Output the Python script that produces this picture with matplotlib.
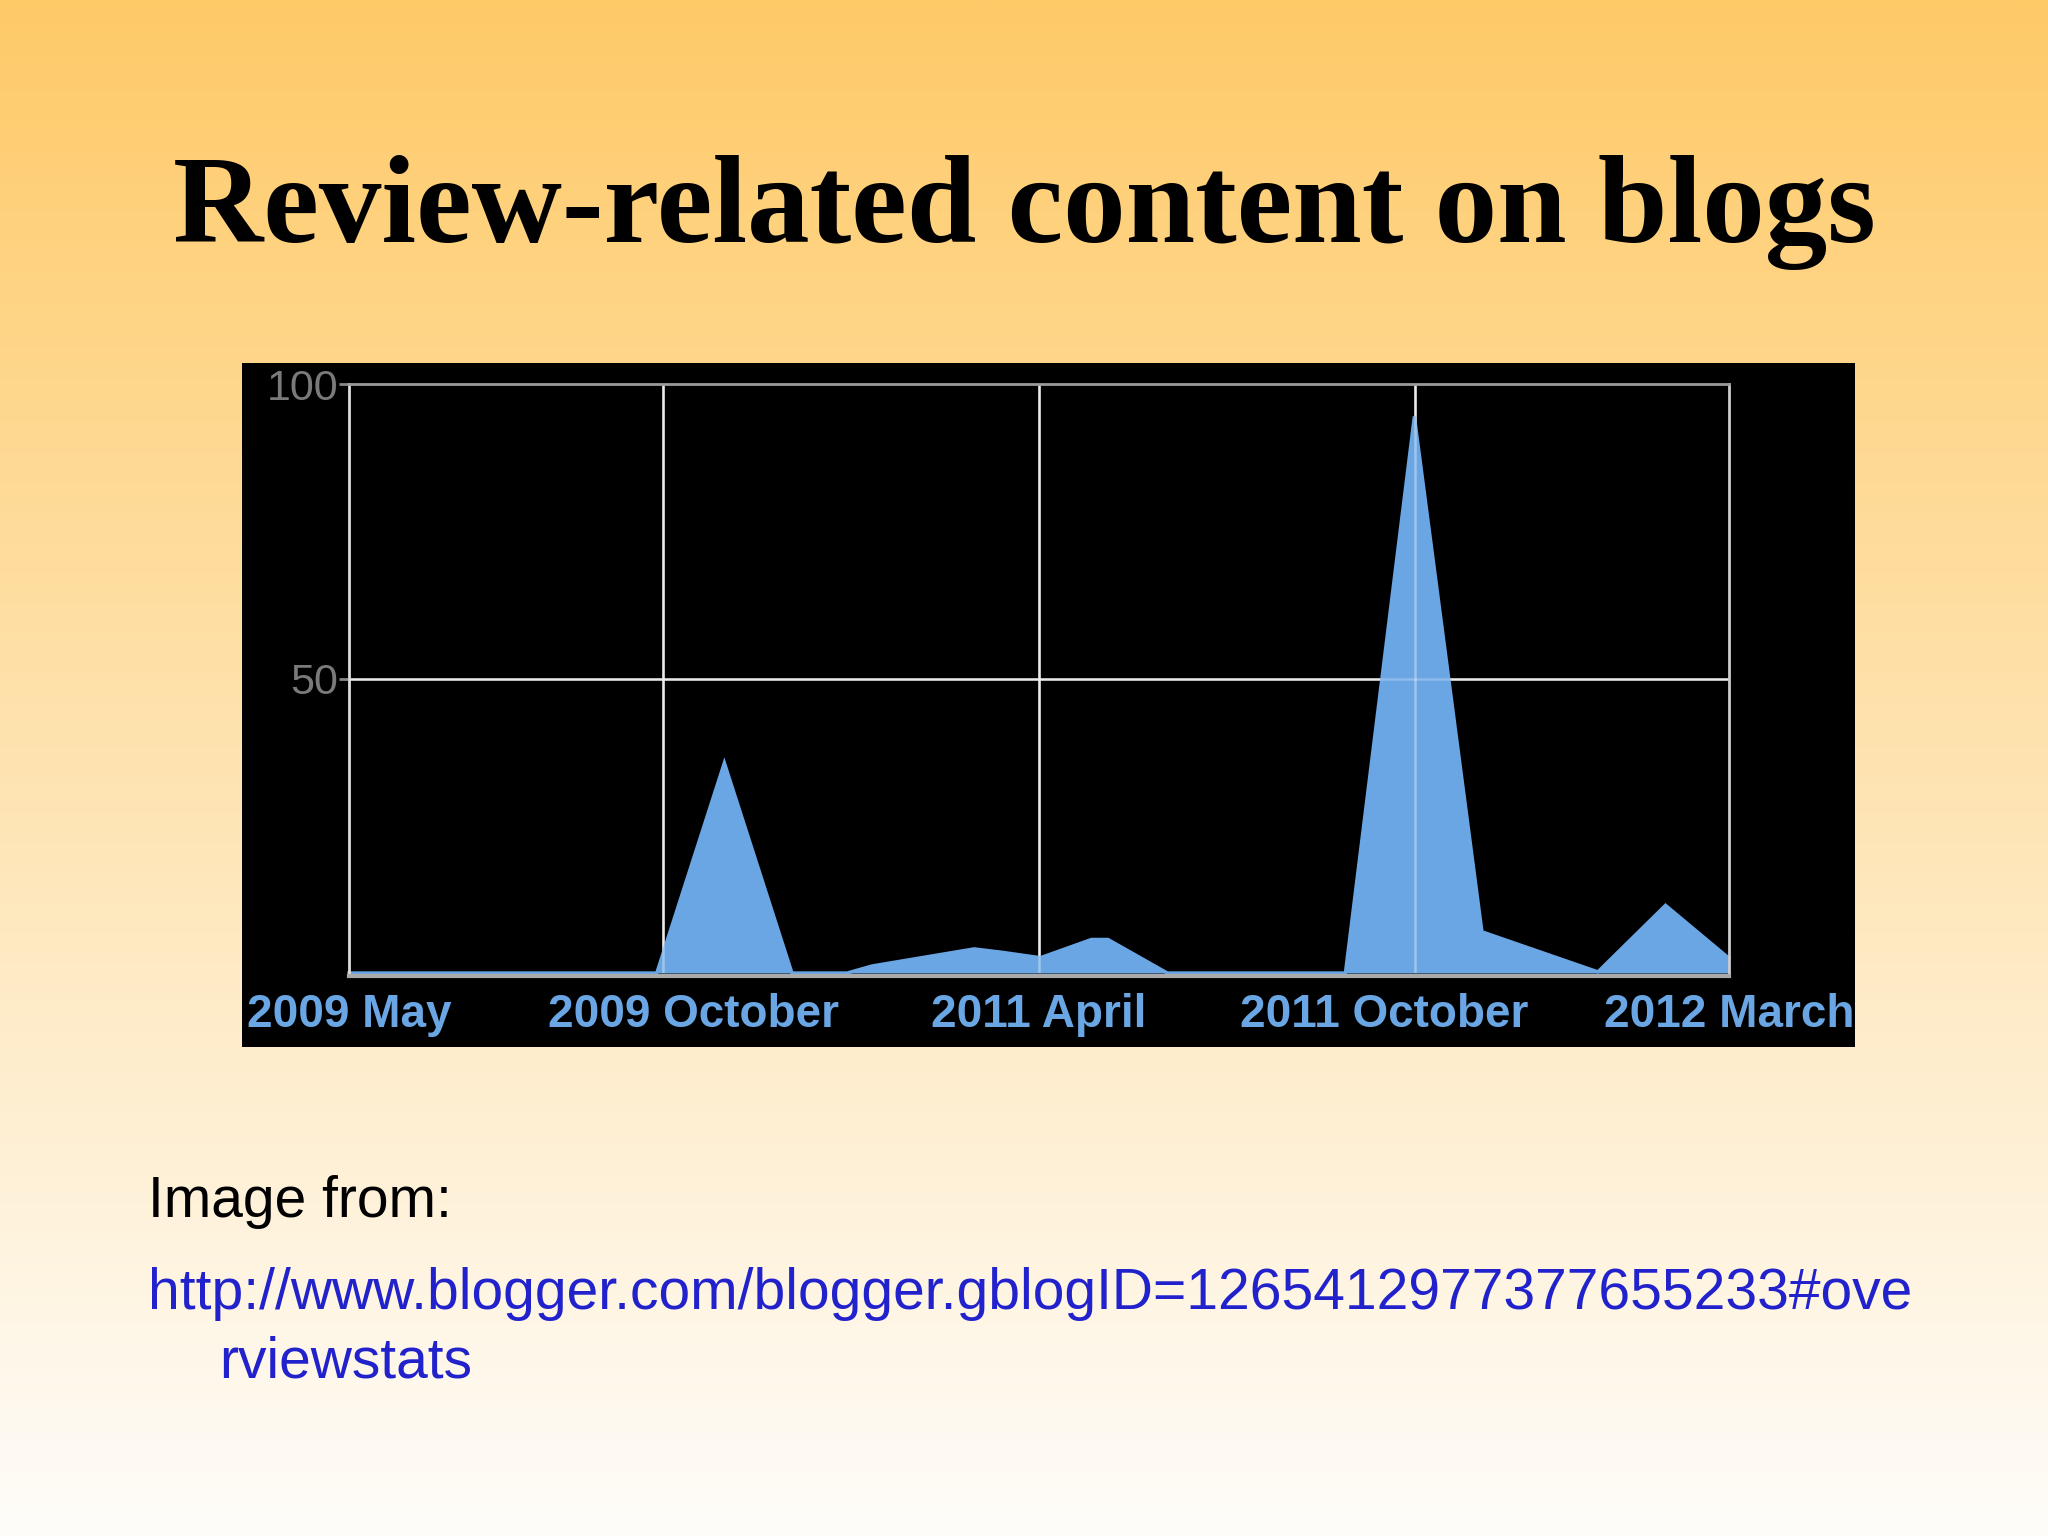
import numpy as np
import matplotlib
matplotlib.use("Agg")
import matplotlib.pyplot as plt
from matplotlib.patches import Rectangle

# ---- data ----
x_pos = [0, 22.3, 27.2, 32.1, 36.1, 37.9, 45.3, 47.4, 50.1, 53.8, 55.0, 59.3,
         72.2, 77.2, 82.1, 90.5, 95.4, 100]
values = [0, 0, 35.7, 0, 0, 1.2, 4.1, 3.5, 2.6, 5.7, 5.7, 0,
          0, 94.5, 7.0, 0.2, 11.5, 2.5]
tick_pos = [0, 25, 50, 75, 100]
tick_labels = ["2009 May", "2009 October", "2011 April", "2011 October", "2012 March"]
ytick_pos = [50, 100]
ytick_labels = ["50", "100"]
vgrid = [22.75, 50, 77.25]
title = "Review-related content on blogs"
src_label = "Image from:"
url_line1 = "http://www.blogger.com/blogger.gblogID=1265412977377655233#ove"
url_line2 = "rviewstats"

W, H = 2048, 1536
fig = plt.figure(figsize=(W / 100, H / 100), dpi=100)

# background gradient
bg = fig.add_axes([0, 0, 1, 1], zorder=-10)
top = np.array([254, 202, 104]) / 255.0
bot = np.array([255, 253, 250]) / 255.0
t = np.linspace(0, 1, 512)[:, None]
grad = top[None, :] * (1 - t) + bot[None, :] * t
bg.imshow(grad[:, None, :].repeat(2, axis=1), aspect="auto", extent=[0, 1, 0, 1])
bg.set_axis_off()

# black chart box
fig.patches.append(Rectangle((242 / W, 1 - 1047 / H), 1613 / W, 684 / H,
                             transform=fig.transFigure, facecolor="black",
                             edgecolor="none", zorder=-5))

ax = fig.add_axes([349 / W, 1 - 973 / H, 1380 / W, 589 / H])
ax.spines["bottom"].set_position(("outward", 2.5))
ax.set_facecolor("black")
ax.set_xlim(0, 100)
ax.set_ylim(0, 100)

fill_c = "#6aa6e4"
for gx in vgrid:
    ax.axvline(gx, color="#e2e2e2", lw=1.8, zorder=1)
ax.axhline(50, color="#e2e2e2", lw=1.8, zorder=1)
ax.fill_between(x_pos, values, 0, color=fill_c, lw=0, zorder=2)
ax.plot(x_pos, values, color=fill_c, lw=2.4, zorder=2, solid_joinstyle="miter",
        clip_on=False)
for gx in vgrid:
    ax.axvline(gx, color="white", lw=1.8, alpha=0.35, zorder=3)
ax.axhline(50, color="white", lw=1.8, alpha=0.25, zorder=3)

ax.set_xticks(tick_pos, tick_labels)
ax.set_yticks(ytick_pos, ytick_labels)
ax.tick_params(axis="x", length=0, pad=12, labelsize=33, labelcolor=fill_c)
ax.tick_params(axis="y", length=7, width=2, color="#888888", pad=1,
               labelsize=31, labelcolor="#7a7a7a")
for lab in ax.get_xticklabels():
    lab.set_fontfamily("Liberation Sans")
    lab.set_fontweight("bold")
for lab in ax.get_yticklabels():
    lab.set_fontfamily("Liberation Sans")

ax.spines["top"].set_color("#9a9a9a")
ax.spines["top"].set_linewidth(2)
ax.spines["left"].set_color("#dddddd")
ax.spines["left"].set_linewidth(2)
ax.spines["right"].set_color("#cccccc")
ax.spines["right"].set_linewidth(2)
ax.spines["bottom"].set_color("#aaaaaa")
ax.spines["bottom"].set_linewidth(3)
for s in ax.spines.values():
    s.set_zorder(4)

# texts
fig.text(0.5, 1 - 242 / H, title, ha="center", va="baseline",
         fontfamily="Liberation Serif", fontweight="bold", fontsize=90, color="black")
fig.text(148 / W, 1 - 1217 / H, src_label, ha="left", va="baseline",
         fontfamily="Liberation Sans", fontsize=41, color="black")
fig.text(148 / W, 1 - 1309 / H, url_line1, ha="left", va="baseline",
         fontfamily="Liberation Sans", fontsize=41, color="#2222cc")
fig.text(219 / W, 1 - 1378 / H, url_line2, ha="left", va="baseline",
         fontfamily="Liberation Sans", fontsize=41, color="#2222cc")

fig.savefig("out.png", dpi=100)
